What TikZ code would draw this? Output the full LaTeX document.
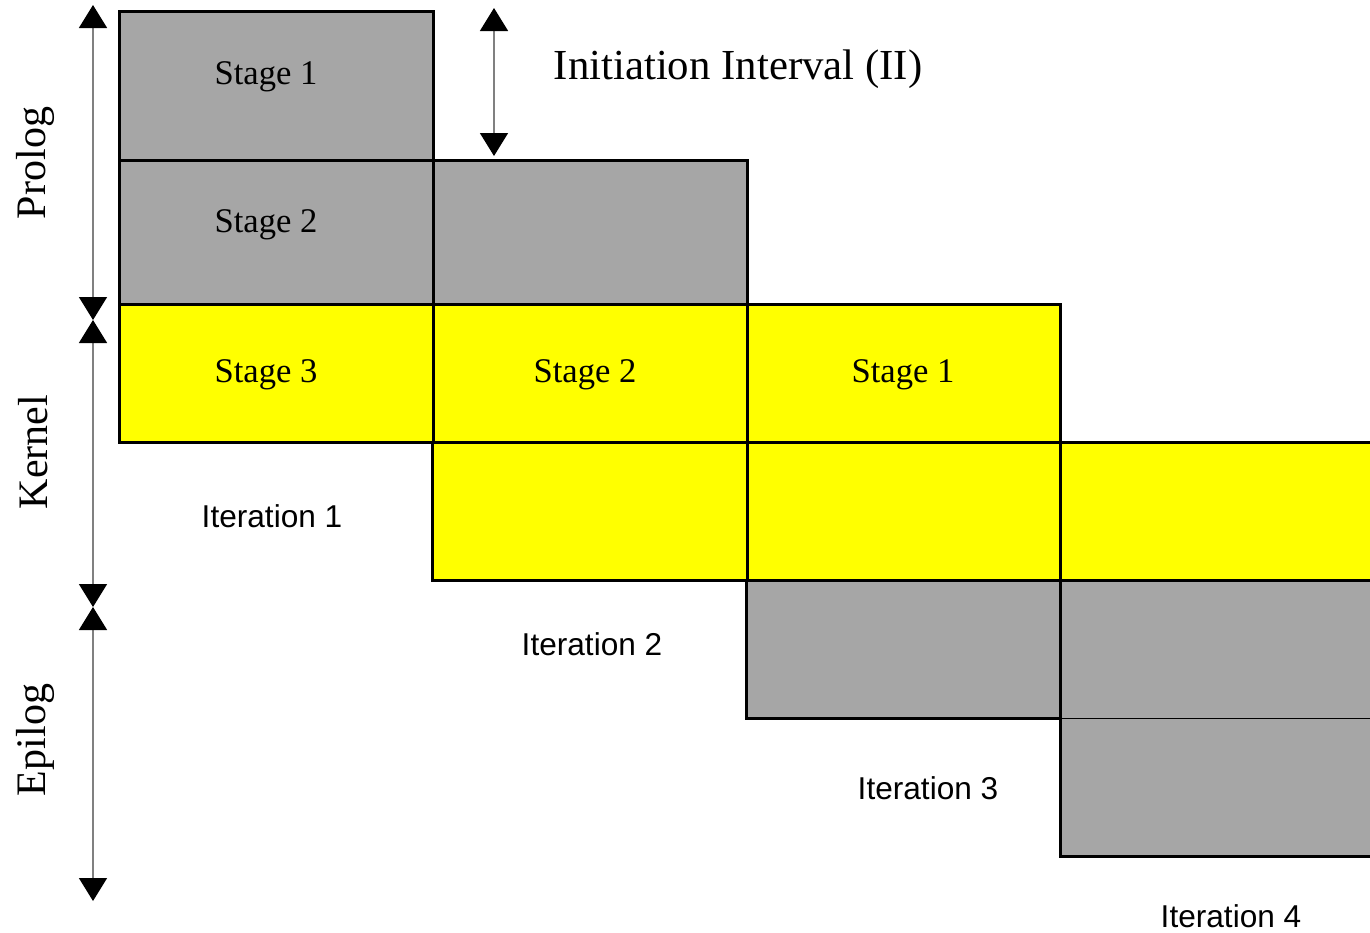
\documentclass[tikz,border=0pt]{standalone}
\usepackage{fontspec}
\setmainfont{Liberation Serif}
\newfontfamily\iterfont{Liberation Sans}
\usetikzlibrary{arrows.meta}
\definecolor{stufegrau}{RGB}{166,166,166}
\definecolor{stufegelb}{RGB}{255,255,0}
\definecolor{pfeilgrau}{RGB}{128,128,128}

\begin{document}
\begin{tikzpicture}[x=0.5pt,y=-0.5pt,
	>={Triangle[width=14pt,length=11.5pt,color=black]},
	box/.style={draw=black,line width=1.5pt},
	stage/.style={font=\fontsize{17.3}{19}\selectfont},
	iter/.style={font=\iterfont\fontsize{15.8}{18}\selectfont},
	phase/.style={font=\fontsize{21}{23}\selectfont,rotate=90},
	span/.style={<->,draw=pfeilgrau,line width=0.75pt}]

\def\kasten#1#2#3#4#5{
	\filldraw[box,fill=#5] (#1,#2) rectangle (#3,#4);
}

\useasboundingbox (0,0) rectangle (1370,932);

% Iteration 1
\kasten{119}{11}{433}{160}{stufegrau}
\kasten{119}{160}{433}{304}{stufegrau}
\kasten{119}{304}{433}{442}{stufegelb}

% Iteration 2
\kasten{433}{160}{747}{304}{stufegrau}
\kasten{433}{304}{747}{442}{stufegelb}
\kasten{432}{442}{747}{580}{stufegelb}

% Iteration 3
\kasten{747}{304}{1060}{442}{stufegelb}
\kasten{747}{442}{1060}{580}{stufegelb}
\kasten{746}{580}{1060}{718}{stufegrau}

% Iteration 4, rechts abgeschnitten
\begin{scope}
\clip (0,0) rectangle (1370,932);
\kasten{1060}{442}{1400}{580}{stufegelb}
\kasten{1060}{580}{1400}{856}{stufegrau}
\draw[line width=0.5pt] (1060,718)--(1400,718);
\end{scope}

\node[stage] (p1) at (266,77) {Stage 1};
\node[stage] (p2) at (266,225) {Stage 2};
\node[stage] (k3) at (266,375) {Stage 3};
\node[stage] (k2) at (585,375) {Stage 2};
\node[stage] (k1) at (903,375) {Stage 1};

\node[iter] (it1) at (272,516) {Iteration 1};
\node[iter] (it2) at (592,644) {Iteration 2};
\node[iter] (it3) at (928,788) {Iteration 3};
\node[iter] (it4) at (1231,916) {Iteration 4};

% Phasen links
\coordinate (prolog a) at (93,5);
\coordinate (prolog b) at (93,320);
\coordinate (kernel a) at (93,320);
\coordinate (kernel b) at (93,607);
\coordinate (epilog a) at (93,607);
\coordinate (epilog b) at (93,901);
\draw[span] (prolog a)--(prolog b);
\draw[span] (kernel a)--(kernel b);
\draw[span] (epilog a)--(epilog b);

\node[phase] (prolog) at (35,163) {Prolog};
\node[phase] (kernel) at (33,452) {Kernel};
\node[phase] (epilog) at (35,740) {Epilog};

% Initiation Interval
\coordinate (ii a) at (494,8);
\coordinate (ii b) at (494,156);
\draw[span] (ii a)--(ii b);
\node[font=\fontsize{21.4}{24}\selectfont] (ii) at (738,69) {Initiation Interval (II)};

\end{tikzpicture}
\end{document}
